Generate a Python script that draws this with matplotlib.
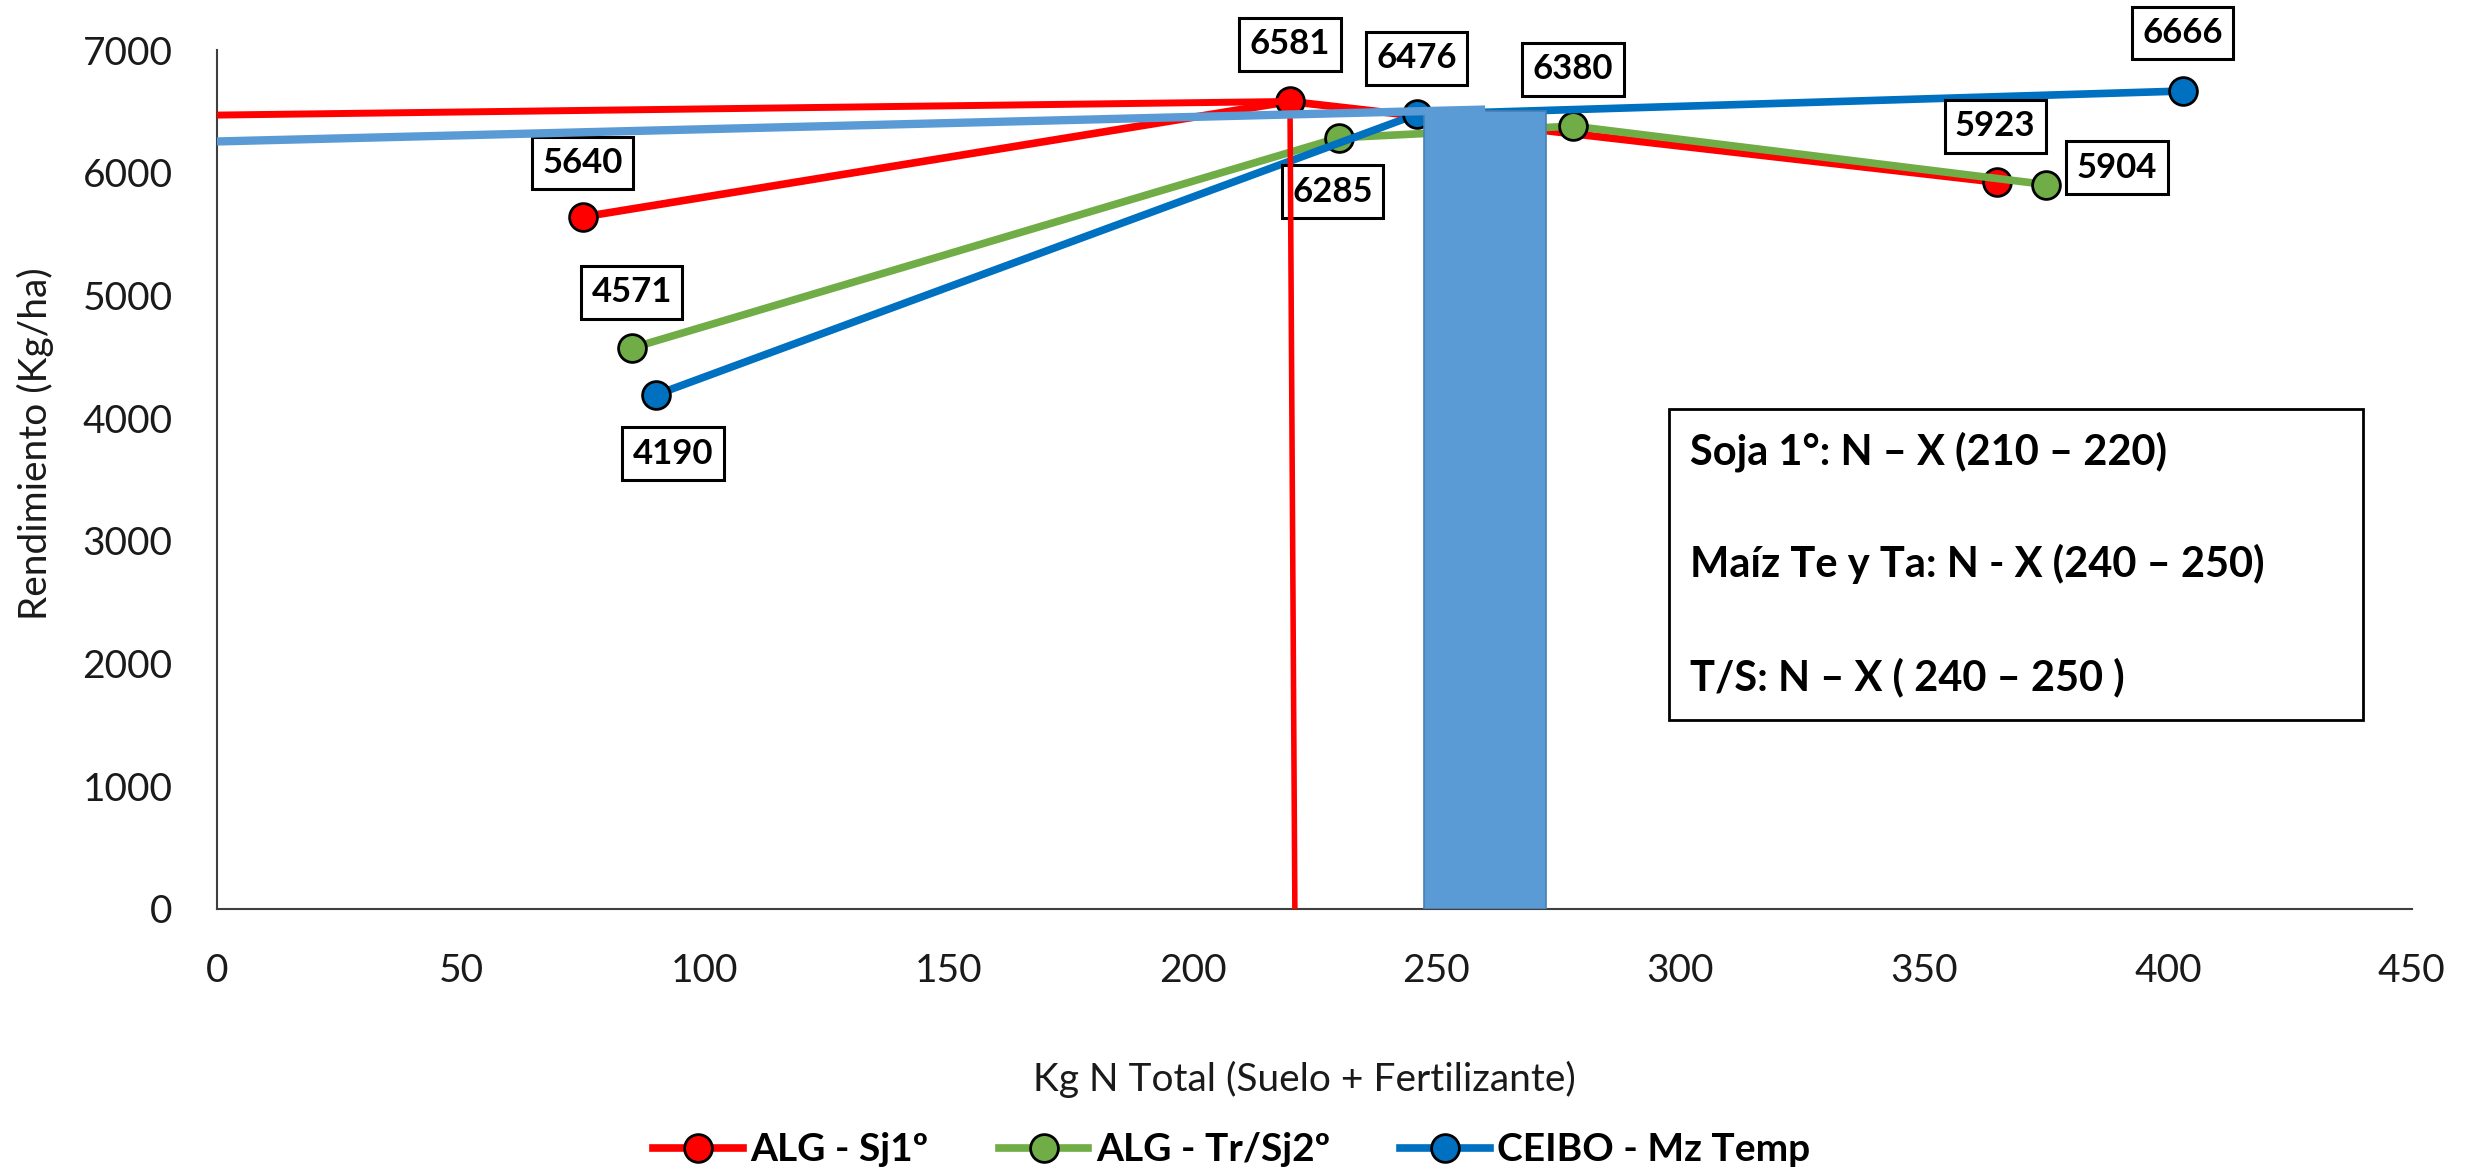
import matplotlib
matplotlib.use('Agg')
import matplotlib.pyplot as plt
from matplotlib.lines import Line2D
import matplotlib.patches as patches
import numpy as np

plt.rcParams['font.family'] = ['Lato', 'DejaVu Sans']

# N total (kg) vs yield (kg/ha) for each site / crop
n_sj1 = [75, 220, 365]
y_sj1 = [5640, 6581, 5923]
n_trsj2 = [85, 230, 278, 375]
y_trsj2 = [4571, 6285, 6380, 5904]
n_mz = [90, 246, 403]
y_mz = [4190, 6476, 6666]

series_names = ['ALG - Sj1º', 'ALG - Tr/Sj2º', 'CEIBO - Mz Temp']
series_colors = ['#FF0000', '#70AD47', '#0070C0']

# label offsets in pixels (dx, dy) for each point
off_sj1 = [(0, 54), (0, 57), (-2, 56)]
off_trsj2 = [(0, 56), (-6, -54), (0, 57), (71, 17)]
off_mz = [(17, -59), (0, 56), (0, 58)]

# drawn guides: optimum line for soy, maize range band
soy_opt_x = [0, 220, 221]
soy_opt_y = [6470, 6581, 0]
mz_guide_x = [0, 260]
mz_guide_y = [6255, 6515]
band_center = 260
band_width = 25
band_height = 6500

box_lines = ['Soja 1°: N – X (210 – 220)',
             'Maíz Te y Ta: N - X (240 – 250)',
             'T/S: N – X ( 240 – 250 )']

xticks = np.arange(0, 451, 50)
yticks = np.arange(0, 7001, 1000)

fig = plt.figure(figsize=(24.66, 11.75), dpi=100)
ax = fig.add_axes([0.088, 0.2264, 0.890, 0.731])

data = [(n_sj1, y_sj1, off_sj1), (n_trsj2, y_trsj2, off_trsj2), (n_mz, y_mz, off_mz)]
for (xs, ys, offs), name, col in zip(data, series_names, series_colors):
    ax.plot(xs, ys, color=col, lw=5.5, marker='o', ms=20, mfc=col,
            mec='black', mew=2, zorder=3, label=name, solid_capstyle='butt')
    for x, y, (dx, dy) in zip(xs, ys, offs):
        ax.annotate('%d' % y, (x, y), xytext=(dx, dy), textcoords='offset pixels',
                    ha='center', va='center', fontsize=25, fontweight='bold',
                    bbox=dict(boxstyle='square,pad=0.3', fc='white', ec='black', lw=2.2),
                    zorder=4)

# red optimum lines and blue range
ax.plot(soy_opt_x[:2], soy_opt_y[:2], color='#FF0000', lw=5, zorder=5, solid_capstyle='butt')
ax.plot(soy_opt_x[1:], [soy_opt_y[1], soy_opt_y[2]], color='#FF0000', lw=4, zorder=5,
        solid_capstyle='butt')
ax.bar([band_center], [band_height], width=band_width, color='#5B9BD5',
       edgecolor='#4A7FB0', lw=1.2, zorder=5)
ax.plot(mz_guide_x, mz_guide_y, color='#5B9BD5', lw=6, zorder=5, solid_capstyle='butt')

ax.set_xlim(0, 450)
ax.set_ylim(0, 7000)
ax.set_xticks(xticks)
ax.set_yticks(yticks)
ax.tick_params(axis='both', length=0, labelsize=28, colors='#1a1a1a')
ax.tick_params(axis='x', pad=32)
ax.tick_params(axis='y', pad=32)
for s in ['top', 'right']:
    ax.spines[s].set_visible(False)
for s in ['left', 'bottom']:
    ax.spines[s].set_color('#3F3F3F')
    ax.spines[s].set_linewidth(1.5)

# note box
ax.add_patch(patches.Rectangle((0.6615, 0.220), 0.3162, 0.362, transform=ax.transAxes,
                               fc='white', ec='black', lw=2, zorder=6))
for txt, yy in zip(box_lines, [0.533, 0.4016, 0.270]):
    ax.text(0.671, yy, txt, transform=ax.transAxes, ha='left', va='center',
            fontsize=30, fontweight='bold', zorder=7)

fig.text(0.0142, 0.622, 'Rendimiento (Kg/ha)', rotation=90, ha='center', va='center',
         fontsize=28, color='#1a1a1a')
fig.text(0.5288, 0.0817, 'Kg N Total (Suelo + Fertilizante)', ha='center', va='center',
         fontsize=28, color='#1a1a1a')

handles = [Line2D([], [], color=c, lw=5.5, marker='o', ms=20, mfc=c, mec='black', mew=2)
           for c in series_colors]
fig.legend(handles, series_names, loc='center', bbox_to_anchor=(0.4996, 0.0213), ncol=3,
           frameon=False, prop={'size': 28, 'weight': 'bold'}, handlelength=2.3,
           handletextpad=0.2, columnspacing=1.8)

fig.savefig('out.png', dpi=100)
